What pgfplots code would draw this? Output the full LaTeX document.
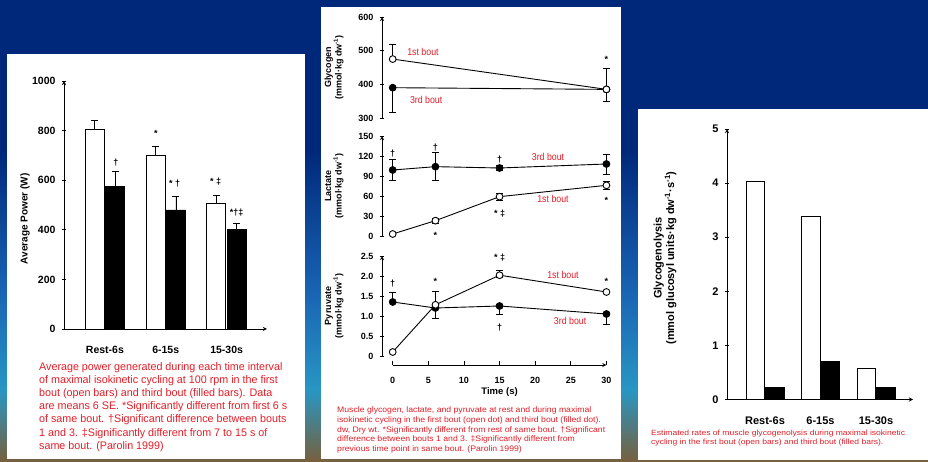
\documentclass[border=0pt]{standalone}
\usepackage{pgfplots}
\pgfplotsset{compat=1.18}
\usepackage{fontspec}
\setmainfont{Liberation Sans}
\newfontfamily\narrowfont[FakeStretch=0.88]{Liberation Sans}
\definecolor{navy}{RGB}{0,40,122}
\definecolor{skyblue}{RGB}{25,100,180}
\definecolor{teal2}{RGB}{40,150,195}
\definecolor{ground}{RGB}{120,95,60}
\definecolor{capred}{RGB}{228,30,40}

\pgfplotsset{
  panel/.style={scale only axis, /pgf/number format/assume math mode=true,
    /pgf/number format/1000 sep={},
    axis line style={-, line width=0.9pt, black}, tick style={line width=0.9pt, black},
    tick align=outside, major tick length=4pt, clip=false},
  openpt/.style={black, line width=0.9pt, mark=*, mark size=3.4pt, mark options={fill=white, draw=black, line width=0.9pt}},
  fillpt/.style={black, line width=0.9pt, mark=*, mark size=3.4pt, mark options={fill=black, draw=black}},
  errs/.style={draw=none, mark=none, forget plot, error bars/.cd, y explicit, y dir=#1,
    error bar style={draw=black, line width=0.8pt, solid},
    error mark options={draw=black, rotate=90, mark size=3.5pt, line width=0.8pt}},
  barerr/.style={error bars/.cd, y dir=plus, y explicit,
    error bar style={draw=black, line width=0.8pt},
    error mark options={draw=black, rotate=90, mark size=3.5pt, line width=0.8pt}},
}
\newcommand\ann{\bfseries\fontsize{9}{9}\selectfont}
\newcommand\lab{\narrowfont\fontsize{10}{10}\selectfont\color{capred}}

\begin{document}
\begin{tikzpicture}[x=1pt,y=1pt]
\useasboundingbox (0,0) rectangle (928,462);
% background
\fill[navy] (0,0) rectangle (928,462);
\shade[top color=navy, bottom color=skyblue] (0,169.5) rectangle (928,312.5);
\shade[top color=skyblue, bottom color=teal2] (0,71.5) rectangle (928,170);
\shade[top color=teal2, bottom color=ground] (0,0) rectangle (928,72);
% panels
\fill[white] (7,3) rectangle (305,408);
\fill[white] (321,3) rectangle (621,455);
\fill[white] (638,2) rectangle (928,353);

% ---------- Chart 1: average power ----------
\begin{axis}[panel, at={(64pt,133pt)}, anchor=south west, width=203pt, height=248pt,
  xmin=0.328, xmax=3.664, ymin=0, ymax=1000,
  axis x line=bottom, axis y line=left,
  ytick={0,200,...,1000}, xtick={1,2,3}, xticklabels={Rest-6s,6-15s,15-30s},
  xtick style={draw=none},
  ticklabel style={font=\bfseries\fontsize{10.5}{12}\selectfont},
  xticklabel style={anchor=center, yshift=-17pt},
  yticklabel style={xshift=-3pt},
  ylabel={Average Power (W)},
  ylabel style={font=\bfseries\fontsize{10}{11}\selectfont, at={(axis description cs:-0.192,0.444)}, anchor=center},
  ybar, bar width=19pt]
\addplot[fill=white, draw=black, line width=0.8pt, bar shift=-10.2pt, barerr]
  coordinates {(1,805) +- (0,35) (2,698) +- (0,40) (3,505) +- (0,35)};
\addplot[fill=black, draw=black, line width=0.8pt, bar shift=10.2pt, barerr]
  coordinates {(1,575) +- (0,60) (2,480) +- (0,55) (3,400) +- (0,25)};
\node[font=\ann] at (axis cs:1.18,673) {†};
\node[font=\ann] at (axis cs:1.836,790) {*};
\node[font=\ann] at (axis cs:2.148,585) {* †};
\node[font=\ann] at (axis cs:2.82,593) {* ‡};
\node[font=\ann] at (axis cs:3.164,468) {*†‡};
\end{axis}
\node[anchor=north west, inner sep=0, text=capred] at (39,101) {\resizebox*{248pt}{92pt}{\begin{tabular}{@{}l@{}}
Average power generated during each time interval\\
of maximal isokinetic cycling at 100 rpm in the first\\
bout (open bars) and third bout (filled bars). Data\\
are means 6 SE. *Significantly different from first 6 s\\
of same bout. †Significant difference between bouts\\
1 and 3. ‡Significantly different from 7 to 15 s of\\
same bout. (Parolin 1999)
\end{tabular}}};

% ---------- Chart 2: glycogen ----------
\begin{axis}[panel, at={(382pt,344pt)}, anchor=south west, width=228pt, height=101pt,
  xmin=-1.5, xmax=30.5, ymin=300, ymax=600,
  axis y line=left, axis x line=none, ytick={300,400,500,600},
  ticklabel style={font=\bfseries\fontsize{9}{10}\selectfont},
  yticklabel style={xshift=-3pt},
  ylabel={Glycogen\\(mmol·kg dw\textsuperscript{-1})},
  ylabel style={align=center, font=\bfseries\fontsize{9}{10.5}\selectfont, at={(axis description cs:-0.21,0.5)}, anchor=center}]
\addplot[errs=plus] coordinates {(0,475) +- (0,45) (30,385) +- (0,62)};
\addplot[errs=minus] coordinates {(0,390) +- (0,73) (30,385) +- (0,35)};
\addplot[fillpt] coordinates {(0,390) (30,385)};
\addplot[openpt] coordinates {(0,475) (30,385)};
\node[font=\lab] at (axis cs:4.25,496) {1st bout};
\node[font=\lab] at (axis cs:4.7,354) {3rd bout};
\node[font=\ann] at (axis cs:30,475) {*};
\end{axis}

% ---------- Chart 2: lactate ----------
\begin{axis}[panel, at={(382pt,226pt)}, anchor=south west, width=228pt, height=100pt,
  xmin=-1.5, xmax=30.5, ymin=0, ymax=150,
  axis y line=left, axis x line=none, ytick={0,30,...,150},
  ticklabel style={font=\bfseries\fontsize{9}{10}\selectfont},
  yticklabel style={xshift=-3pt},
  ylabel={Lactate\\(mmol·kg dw\textsuperscript{-1})},
  ylabel style={align=center, font=\bfseries\fontsize{9}{10.5}\selectfont, at={(axis description cs:-0.21,0.5)}, anchor=center}]
\addplot[errs=both] coordinates {(0,99) +- (0,16) (6,104) +- (0,21) (15,102) +- (0,4) (30,108) +- (0,15)};
\addplot[errs=both] coordinates {(6,23) +- (0,4) (15,59) +- (0,5) (30,76) +- (0,6)};
\addplot[fillpt] coordinates {(0,99) (6,104) (15,102) (30,108)};
\addplot[openpt] coordinates {(0,3) (6,23) (15,59) (30,76)};
\node[font=\ann] at (axis cs:0,124) {†};
\node[font=\ann] at (axis cs:6,133) {†};
\node[font=\ann] at (axis cs:15,115) {†};
\node[font=\lab] at (axis cs:21.8,118) {3rd bout};
\node[font=\lab] at (axis cs:22.5,55) {1st bout};
\node[font=\ann] at (axis cs:15,34) {* ‡};
\node[font=\ann] at (axis cs:30,54) {*};
\node[font=\ann] at (axis cs:6,1) {*};
\end{axis}

% ---------- Chart 2: pyruvate ----------
\begin{axis}[panel, at={(382pt,106pt)}, anchor=south west, width=228pt, height=100pt,
  xmin=-1.5, xmax=30.5, ymin=0, ymax=2.5,
  axis y line=left, axis x line=none, ytick={0,0.5,...,2.5},
  yticklabels={0,0.5,1.0,1.5,2.0,2.5},
  ticklabel style={font=\bfseries\fontsize{9}{10}\selectfont},
  yticklabel style={xshift=-3pt},
  ylabel={Pyruvate\\(mmol·kg dw\textsuperscript{-1})},
  ylabel style={align=center, font=\bfseries\fontsize{9}{10.5}\selectfont, at={(axis description cs:-0.21,0.5)}, anchor=center}]
\addplot[errs=plus] coordinates {(0,1.35) +- (0,0.25) (15,1.25) +- (0,0.05) (30,1.05) +- (0,0.05)};
\addplot[errs=minus] coordinates {(6,1.2) +- (0,0.25) (15,1.25) +- (0,0.2) (30,1.05) +- (0,0.25)};
\addplot[errs=plus] coordinates {(6,1.28) +- (0,0.33) (15,2.02) +- (0,0.11)};
\addplot[errs=minus] coordinates {(15,2.02) +- (0,0.05)};
\addplot[fillpt] coordinates {(0,1.35) (6,1.2) (15,1.25) (30,1.05)};
\addplot[openpt] coordinates {(0,0.1) (6,1.28) (15,2.02) (30,1.6)};
\node[font=\ann] at (axis cs:0,1.8) {†};
\node[font=\ann] at (axis cs:6,1.87) {*};
\node[font=\ann] at (axis cs:15,2.45) {* ‡};
\node[font=\ann] at (axis cs:30,1.87) {*};
\node[font=\ann] at (axis cs:15,0.72) {†};
\node[font=\lab] at (axis cs:23.9,2.02) {1st bout};
\node[font=\lab] at (axis cs:24.9,0.87) {3rd bout};
\end{axis}

% ---------- Chart 2: time axis ----------
\begin{axis}[panel, at={(392.7pt,97pt)}, anchor=south west, width=213.75pt, height=10pt,
  xmin=0, xmax=30, ymin=0, ymax=1,
  axis x line=bottom, axis y line=none, xtick={0,5,...,30}, tick align=inside,
  ticklabel style={font=\bfseries\fontsize{9}{10}\selectfont},
  xticklabel style={anchor=center, yshift=-15pt},
  xlabel={Time (s)},
  xlabel style={font=\bfseries\fontsize{9.5}{10}\selectfont, at={(axis description cs:0.5,0)}, anchor=center, yshift=-27pt}]
\addplot[draw=none] coordinates {(0,0)};
\end{axis}
\node[anchor=north west, inner sep=0, text=capred] at (337,56) {\resizebox*{268pt}{48pt}{\begin{tabular}{@{}l@{}}
Muscle glycogen, lactate, and pyruvate at rest and during maximal\\
isokinetic cycling in the first bout (open dot) and third bout (filled dot).\\
dw, Dry wt. *Significantly different from rest of same bout. †Significant\\
difference between bouts 1 and 3. ‡Significantly different from\\
previous time point in same bout. (Parolin 1999)
\end{tabular}}};

% ---------- Chart 3: glycogenolysis ----------
\begin{axis}[panel, at={(727pt,62.5pt)}, anchor=south west, width=186pt, height=270.5pt,
  xmin=0.315, xmax=3.667, ymin=0, ymax=5,
  axis x line=bottom, axis y line=left,
  ytick={0,1,...,5}, xtick={1,2,3}, xticklabels={Rest-6s,6-15s,15-30s},
  xtick style={draw=none},
  ticklabel style={font=\bfseries\fontsize{11}{12}\selectfont},
  xticklabel style={anchor=center, yshift=-17.5pt},
  yticklabel style={xshift=-3pt},
  ylabel={Glycogenolysis\\(mmol glucosyl units·kg dw\textsuperscript{-1}·s\textsuperscript{-1})},
  ylabel style={align=center, font=\bfseries\fontsize{11}{12.5}\selectfont, at={(axis description cs:-0.333,0.523)}, anchor=center},
  ybar, bar width=18.5pt]
\addplot[fill=white, draw=black, line width=0.8pt, bar shift=-9.75pt]
  coordinates {(1,4.03) (2,3.38) (3,0.58)};
\addplot[fill=black, draw=black, line width=0.8pt, bar shift=9.75pt]
  coordinates {(1,0.22) (2,0.70) (3,0.23)};
\end{axis}
\node[anchor=north west, inner sep=0, text=capred] at (651,33) {\resizebox*{254pt}{18pt}{\begin{tabular}{@{}l@{}}
Estimated rates of muscle glycogenolysis during maximal isokinetic\\
cycling in the first bout (open bars) and third bout (filled bars).
\end{tabular}}};
\end{tikzpicture}
\end{document}
